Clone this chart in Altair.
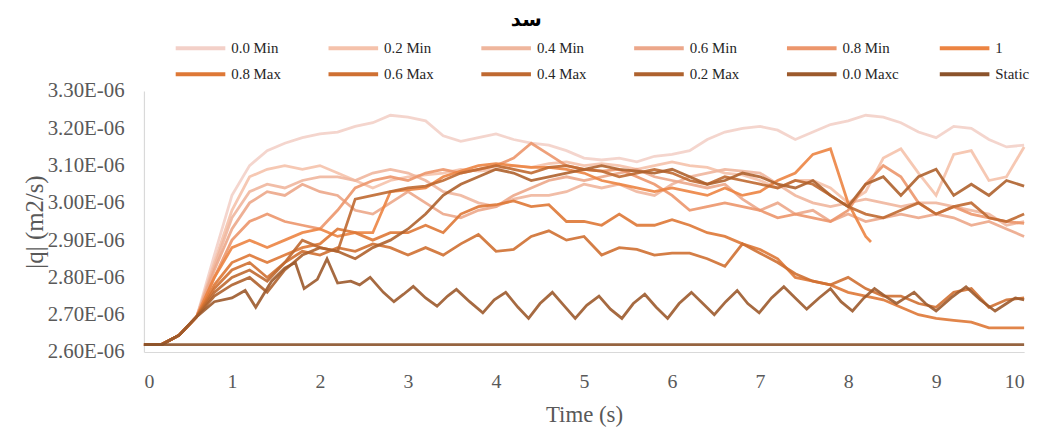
import altair as alt
import pandas as pd

# ---- series names & colours (legend order) ----
SERIES = ["0.0 Min", "0.2 Min", "0.4 Min", "0.6 Min", "0.8 Min", "1",
          "0.8 Max", "0.6 Max", "0.4 Max", "0.2 Max", "0.0 Maxc", "Static"]
COLORS = ["#f3d0c8", "#f5c2ab", "#efb69d", "#eca78a", "#ec966c", "#ec8442",
          "#de7836", "#cf7032", "#bf6931", "#ae622e", "#9c5a2c", "#8b532b"]

# time grid (s) used by most series, step 0.2
T_GRID = [round(i * 0.2, 1) for i in range(51)]
START = [2.62, 2.62, 2.645, 2.695]          # t = 0 .. 0.6 (values in 1E-06 m2/s)

q_00min = START + [2.86, 3.02, 3.10, 3.14, 3.16, 3.175, 3.185, 3.19, 3.205, 3.215,
                   3.235, 3.23, 3.22, 3.18, 3.165, 3.175, 3.185, 3.17, 3.16, 3.155,
                   3.14, 3.12, 3.115, 3.12, 3.11, 3.125, 3.13, 3.14, 3.17, 3.19,
                   3.20, 3.205, 3.195, 3.17, 3.19, 3.21, 3.22, 3.235, 3.23, 3.215,
                   3.19, 3.175, 3.205, 3.20, 3.17, 3.15, 3.155]
q_02min = START + [2.84, 2.98, 3.07, 3.09, 3.10, 3.09, 3.10, 3.08, 3.06, 3.04,
                   3.06, 3.07, 3.075, 3.08, 3.09, 3.085, 3.09, 3.10, 3.095, 3.105,
                   3.11, 3.10, 3.105, 3.10, 3.09, 3.10, 3.11, 3.10, 3.095, 3.08,
                   3.075, 3.06, 3.04, 3.06, 3.06, 3.04, 3.00, 3.03, 3.12, 3.145,
                   3.08, 3.02, 3.13, 3.14, 3.06, 3.07, 3.15]
q_04min = START + [2.83, 2.96, 3.03, 3.05, 3.04, 3.06, 3.07, 3.07, 3.06, 3.08,
                   3.09, 3.08, 3.06, 3.03, 3.02, 3.00, 2.99, 3.01, 3.02, 3.02,
                   3.03, 3.05, 3.04, 3.05, 3.03, 3.02, 3.05, 3.07, 3.08, 3.09,
                   3.085, 3.08, 3.05, 3.02, 3.00, 2.99, 3.00, 3.01, 3.00, 2.99,
                   3.00, 3.00, 2.99, 2.98, 2.97, 2.94, 2.95]
q_06min = START + [2.82, 2.93, 3.00, 3.03, 3.02, 3.05, 3.03, 3.02, 2.98, 2.97,
                   3.00, 3.03, 3.00, 2.97, 2.96, 2.98, 2.99, 3.02, 3.04, 3.06,
                   3.07, 3.06, 3.07, 3.08, 3.09, 3.07, 3.06, 3.05, 3.04, 3.05,
                   3.01, 2.98, 3.00, 2.97, 2.98, 2.95, 2.97, 2.95, 2.96, 2.97,
                   2.96, 2.97, 2.96, 2.94, 2.95, 2.93, 2.91]
q_08min = START + [2.80, 2.90, 2.95, 2.97, 2.95, 2.94, 2.93, 2.98, 3.04, 3.06,
                   3.07, 3.06, 3.08, 3.09, 3.08, 3.09, 3.10, 3.12, 3.16, 3.13,
                   3.10, 3.09, 3.085, 3.09, 3.07, 3.05, 3.02, 2.98, 2.99, 3.00,
                   2.99, 2.98, 2.96, 2.97, 2.96, 2.95, 2.98, 3.05, 3.10, 3.07,
                   3.00, 2.97, 2.99, 2.97, 2.96, 2.95, 2.945]
# series "1" stops at t = 8.26 s
t_one = T_GRID[:42] + [8.26]
q_one = START + [2.80, 2.88, 2.90, 2.88, 2.90, 2.92, 2.93, 2.91, 2.92, 2.92,
                 3.03, 3.035, 3.04, 3.07, 3.085, 3.10, 3.105, 3.10, 3.095, 3.095,
                 3.09, 3.08, 3.06, 3.05, 3.04, 3.03, 3.04, 3.03, 3.02, 3.04,
                 3.02, 3.03, 3.06, 3.08, 3.13, 3.145, 3.00, 2.91, 2.895]
q_08max = START + [2.78, 2.84, 2.86, 2.84, 2.86, 2.88, 2.89, 2.93, 2.92, 2.90,
                   2.92, 2.92, 2.94, 2.92, 2.97, 2.99, 2.995, 3.005, 2.99, 2.995,
                   2.95, 2.95, 2.94, 2.97, 2.94, 2.94, 2.955, 2.94, 2.92, 2.91,
                   2.89, 2.875, 2.85, 2.80, 2.79, 2.78, 2.76, 2.75, 2.74, 2.72,
                   2.70, 2.69, 2.685, 2.68, 2.665, 2.665, 2.665]
q_06max = START + [2.77, 2.82, 2.84, 2.80, 2.84, 2.87, 2.86, 2.88, 2.87, 2.89,
                   2.88, 2.86, 2.88, 2.86, 2.89, 2.915, 2.87, 2.875, 2.91, 2.925,
                   2.90, 2.91, 2.86, 2.88, 2.875, 2.86, 2.865, 2.865, 2.85, 2.83,
                   2.89, 2.865, 2.84, 2.81, 2.79, 2.78, 2.80, 2.77, 2.75, 2.75,
                   2.73, 2.72, 2.76, 2.77, 2.72, 2.74, 2.745]
q_04max = START + [2.76, 2.80, 2.82, 2.79, 2.84, 2.90, 2.88, 2.87, 3.01, 3.02,
                   3.03, 3.04, 3.045, 3.06, 3.08, 3.09, 3.10, 3.09, 3.08, 3.095,
                   3.10, 3.09, 3.085, 3.07, 3.08, 3.09, 3.08, 3.06, 3.05, 3.07,
                   3.06, 3.05, 3.04, 3.06, 3.05, 3.02, 2.99, 2.97, 2.96, 2.98,
                   3.00, 2.97, 2.99, 3.00, 2.96, 2.95, 2.97]
q_02max = START + [2.75, 2.78, 2.80, 2.76, 2.82, 2.86, 2.88, 2.87, 2.85, 2.88,
                   2.90, 2.93, 2.97, 3.02, 3.05, 3.07, 3.09, 3.08, 3.06, 3.07,
                   3.08, 3.09, 3.10, 3.09, 3.085, 3.08, 3.09, 3.07, 3.05, 3.06,
                   3.08, 3.07, 3.05, 3.04, 3.06, 3.02, 2.99, 3.05, 3.07, 3.02,
                   3.07, 3.09, 3.02, 3.05, 3.02, 3.06, 3.045]
# "0.0 Maxc": regular oscillation, listed at its turning points and shoulders
t_00maxc = [0.0, 0.2, 0.4, 0.6, 0.8, 1.0, 1.15, 1.27, 1.45, 1.6, 1.72, 1.82, 1.97,
            2.08, 2.2, 2.35, 2.45, 2.57, 2.72, 2.84, 2.95, 3.06, 3.2, 3.33, 3.45,
            3.55, 3.7, 3.85, 3.98, 4.11, 4.25, 4.37, 4.5, 4.64, 4.77, 4.9, 5.03,
            5.17, 5.3, 5.43, 5.56, 5.69, 5.82, 5.95, 6.08, 6.22, 6.35, 6.48, 6.61,
            6.74, 6.86, 6.99, 7.13, 7.27, 7.4, 7.53, 7.67, 7.8, 7.92, 8.05, 8.18,
            8.3, 8.42, 8.55, 8.65, 8.75, 8.88, 9.0, 9.17, 9.34, 9.5, 9.67, 9.8,
            9.9, 10.0]
q_00maxc = [2.62, 2.62, 2.645, 2.695, 2.735, 2.745, 2.765, 2.72, 2.79, 2.825, 2.84,
            2.77, 2.795, 2.85, 2.785, 2.79, 2.78, 2.80, 2.76, 2.735, 2.755, 2.776,
            2.745, 2.723, 2.75, 2.768, 2.735, 2.705, 2.74, 2.76, 2.72, 2.69, 2.73,
            2.76, 2.725, 2.69, 2.725, 2.75, 2.715, 2.69, 2.73, 2.755, 2.72, 2.69,
            2.73, 2.76, 2.73, 2.70, 2.735, 2.765, 2.73, 2.705, 2.745, 2.775,
            2.745, 2.715, 2.745, 2.77, 2.735, 2.71, 2.745, 2.77, 2.75, 2.73, 2.745,
            2.76, 2.73, 2.71, 2.745, 2.775, 2.74, 2.71, 2.73, 2.745, 2.74]
t_static = [0.0, 10.0]
q_static = [2.62, 2.62]

Y_TICKS = [2.6, 2.7, 2.8, 2.9, 3.0, 3.1, 3.2, 3.3]
X_TICKS = [0, 1, 2, 3, 4, 5, 6, 7, 8, 9, 10]

table = [
    ("0.0 Min", T_GRID, q_00min), ("0.2 Min", T_GRID, q_02min),
    ("0.4 Min", T_GRID, q_04min), ("0.6 Min", T_GRID, q_06min),
    ("0.8 Min", T_GRID, q_08min), ("1", t_one, q_one),
    ("0.8 Max", T_GRID, q_08max), ("0.6 Max", T_GRID, q_06max),
    ("0.4 Max", T_GRID, q_04max), ("0.2 Max", T_GRID, q_02max),
    ("0.0 Maxc", t_00maxc, q_00maxc), ("Static", t_static, q_static),
]
rows = []
for name, ts, qs in table:
    assert len(ts) == len(qs), (name, len(ts), len(qs))
    for t, q in zip(ts, qs):
        rows.append({"series": name, "t": t, "q": q})
df = pd.DataFrame(rows)

serif = "Liberation Serif"
x_enc = alt.X("t:Q", scale=alt.Scale(domain=[0, 10], nice=False),
              axis=alt.Axis(values=X_TICKS, title="Time (s)", format="d",
                            labelFontSize=20, titleFontSize=23, labelPadding=20,
                            titlePadding=12))
y_enc = alt.Y("q:Q", scale=alt.Scale(domain=[2.6, 3.3], nice=False, zero=False),
              axis=alt.Axis(values=Y_TICKS, title="|q| (m2/s)",
                            labelExpr="format(datum.value, '.2f') + 'E-06'",
                            labelFontSize=21, titleFontSize=25, labelPadding=20,
                            titlePadding=0))


def legend_row(y, pad):
    return alt.Legend(title=None, orient="none", direction="horizontal",
                      legendX=30, legendY=y, columns=6, symbolType="stroke",
                      symbolSize=2500, symbolStrokeWidth=4, labelFont=serif,
                      labelFontSize=15, labelColor="#262626", columnPadding=pad,
                      gridAlign="all", labelOffset=4, symbolOpacity=1)


def layer(names, cols, y, pad):
    sub = df[df["series"].isin(names)]
    return alt.Chart(sub).mark_line(strokeWidth=2.8, opacity=0.9).encode(
        x=x_enc, y=y_enc,
        color=alt.Color("series:N", sort=names,
                        scale=alt.Scale(domain=names, range=cols),
                        legend=legend_row(y, pad)),
    )


top_row = layer(SERIES[:6], COLORS[:6], -70, 42)
bottom_row = layer(SERIES[6:], COLORS[6:], -44, 33)

chart = alt.layer(top_row, bottom_row).resolve_scale(color="independent").properties(
    width=887, height=263,
    padding={"left": 137, "top": 82, "right": 16, "bottom": 85},
    autosize=alt.AutoSizeParams(type="none"),
    title=alt.TitleParams("سد", anchor="middle", frame="bounds", fontSize=20,
                          font="DejaVu Sans", fontWeight="bold", color="#000000", dy=12),
).configure_view(stroke=None).configure_axis(
    grid=False, ticks=False, domainColor="#d9d9d9", domainWidth=1.2,
    labelFont=serif, titleFont=serif, labelColor="#595959", titleColor="#595959",
    titleFontWeight="normal",
)

chart.save("out.html", embed_options={"renderer": "svg", "actions": False})
